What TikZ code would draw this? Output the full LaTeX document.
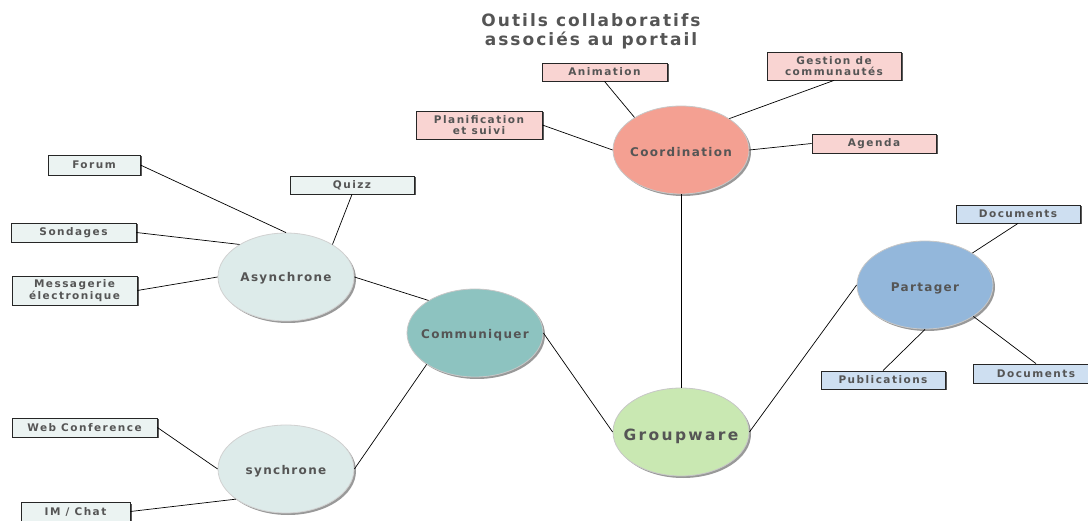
\documentclass[tikz,border=0pt]{standalone}
\usepackage{fontspec}
\setmainfont{DejaVu Sans}
\usetikzlibrary{shadows,shapes.geometric}
\definecolor{txt}{HTML}{555555}
\definecolor{coordc}{HTML}{F4A092}
\definecolor{coordbox}{HTML}{F9D4D2}
\definecolor{asyc}{HTML}{DDEBEA}
\definecolor{comc}{HTML}{8DC3C0}
\definecolor{combox}{HTML}{EBF3F2}
\definecolor{grpc}{HTML}{C9E8B2}
\definecolor{parc}{HTML}{93B7DB}
\definecolor{parbox}{HTML}{CEDFF1}
\newcommand{\bubfont}{\bfseries\fontsize{12}{14}\selectfont\addfontfeature{LetterSpace=11}}
\newcommand{\bigbubfont}{\bfseries\fontsize{15.5}{17}\selectfont\addfontfeature{LetterSpace=15}}
\newcommand{\tagfont}{\bfseries\fontsize{10.5}{10.5}\selectfont\addfontfeature{LetterSpace=14}}
\newcommand{\titlefont}{\bfseries\fontsize{17}{19}\selectfont\addfontfeature{LetterSpace=12}}
\begin{document}
\begin{tikzpicture}[x=1pt,y=-1pt,
  bubble/.style={ellipse, minimum width=136pt, minimum height=88pt, inner sep=0pt,
    draw=black!22, line width=0.8pt,
    drop shadow={shadow xshift=2pt, shadow yshift=-2pt, fill=black!40, opacity=1}},
  bubtext/.style={text=txt, font=\bubfont, inner sep=0pt, yshift=-2pt},
  bigtext/.style={text=txt, font=\bigbubfont, inner sep=0pt, yshift=-4pt},
  tag/.style={rectangle, draw=black!85, line width=0.8pt, inner sep=0pt, align=center,
    text=txt, font=\tagfont,
    drop shadow={shadow xshift=1.5pt, shadow yshift=-1.5pt, fill=black!65, opacity=1}},
  link/.style={draw=black, line width=0.7pt}]
\useasboundingbox (0,0) rectangle (1088,521);
\clip (0,0) rectangle (1088,521);

% title
\node[text=txt, align=center, font=\titlefont] (title) at (591,31)
  {Outils collaboratifs\\associés au portail};

% main bubbles
\node[bubble, fill=coordc, label={[bubtext]center:Coordination}] (coord) at (681,150) {};
\node[bubble, fill=asyc, draw=black!18, label={[bubtext, yshift=1pt]center:Asynchrone}] (asyn) at (286,277) {};
\node[bubble, fill=comc, label={[bubtext]center:Communiquer}] (comm) at (475,333) {};
\node[bubble, fill=asyc, draw=black!18, label={[bubtext]center:synchrone}] (sync) at (286,469) {};
\node[bubble, fill=grpc, label={[bigtext]center:Groupware}] (grp) at (681,432) {};
\node[bubble, fill=parc, label={[bubtext, yshift=-1pt]center:Partager}] (part) at (925,285) {};

% coordination boxes
\node[tag, fill=coordbox, minimum width=125pt, minimum height=18pt] (anim) at (604.5,72) {Animation};
\node[tag, fill=coordbox, minimum width=134pt, minimum height=28pt] (gest) at (834,66) {Gestion de\\communautés};
\node[tag, fill=coordbox, minimum width=126pt, minimum height=28pt] (plan) at (479,125) {Planification\\et suivi};
\node[tag, fill=coordbox, minimum width=124pt, minimum height=19pt] (agenda) at (874,143.5) {Agenda};

% communication boxes
\node[tag, fill=combox, minimum width=92pt, minimum height=20pt] (forum) at (94,165) {Forum};
\node[tag, fill=combox, minimum width=124pt, minimum height=18pt] (quizz) at (352,185) {Quizz};
\node[tag, fill=combox, minimum width=125pt, minimum height=19pt] (sond) at (73.5,232.5) {Sondages};
\node[tag, fill=combox, minimum width=125pt, minimum height=29pt] (mess) at (74.5,290.5) {Messagerie\\électronique};
\node[tag, fill=combox, minimum width=145pt, minimum height=19pt] (web) at (84.5,427.5) {Web Conference};
\node[tag, fill=combox, minimum width=109pt, minimum height=19pt] (im) at (75.5,511.5) {IM / Chat};

% sharing boxes
\node[tag, fill=parbox, minimum width=124pt, minimum height=18pt] (doc1) at (1018,214) {Documents};
\node[tag, fill=parbox, minimum width=124pt, minimum height=18pt] (pub) at (883,380) {Publications};
\node[tag, fill=parbox, minimum width=125pt, minimum height=19pt] (doc2) at (1036,373.5) {Documents};

% connectors
\draw[link] (anim.south) -- (coord.145.8);
\draw[link] (gest.south) -- (coord.33);
\draw[link] (plan.east) -- (coord.west);
\draw[link] (agenda.west) -- (coord.east);
\draw[link] (coord.south) -- (grp.north);
\draw[link] (forum.east) -- (asyn.north);
\draw[link] (quizz.south) -- (asyn.35);
\draw[link] (sond.east) -- (asyn.145.5);
\draw[link] (mess.east) -- (asyn.west);
\draw[link] (asyn.east) -- (comm.145.5);
\draw[link] (web.east) -- (sync.west);
\draw[link] (im.east) -- (sync.211);
\draw[link] (sync.east) -- (comm.213);
\draw[link] (comm.east) -- (grp.west);
\draw[link] (grp.east) -- (part.west);
\draw[link] (doc1.south) -- (part.34);
\draw[link] (pub.north) -- (part.south);
\draw[link] (doc2.north) -- (part.-33);
\end{tikzpicture}
\end{document}
